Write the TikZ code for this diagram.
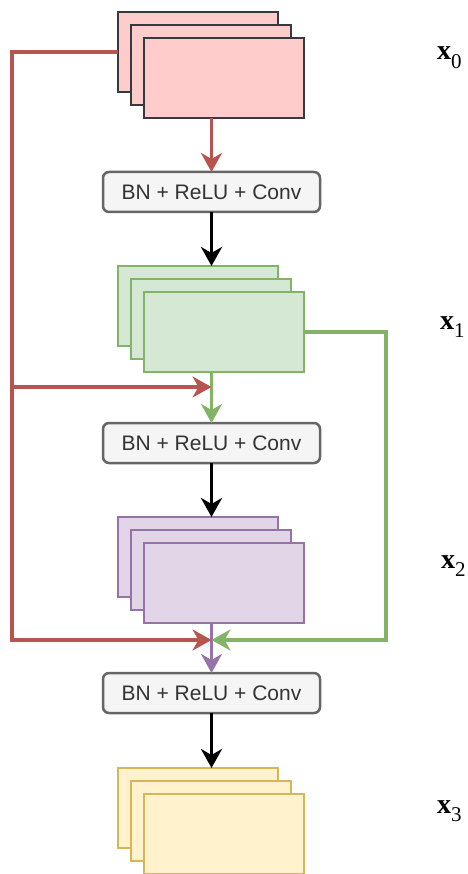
\documentclass[tikz,border=0pt]{standalone}
\usepackage{fontspec}
\setmainfont{Liberation Sans}
\newfontfamily\tms{Liberation Serif}
\usetikzlibrary{arrows.meta}
\definecolor{pinkfill}{HTML}{FFCCCC}
\definecolor{pinkline}{HTML}{36393D}
\definecolor{redline}{HTML}{B85450}
\definecolor{greenfill}{HTML}{D5E8D4}
\definecolor{greenline}{HTML}{82B366}
\definecolor{purplefill}{HTML}{E1D5E7}
\definecolor{purpleline}{HTML}{9673A6}
\definecolor{yellowfill}{HTML}{FFF2CC}
\definecolor{yellowline}{HTML}{D6B656}
\definecolor{boxfill}{HTML}{F5F5F5}
\definecolor{boxline}{HTML}{666666}
\definecolor{boxtext}{HTML}{333333}
\tikzset{
  fmap/.style={rectangle, draw, line width=2.5pt, minimum width=160pt, minimum height=80pt, inner sep=0pt, outer sep=0pt, anchor=north west},
  pinkmap/.style={fmap, fill=pinkfill, draw=pinkline},
  greenmap/.style={fmap, fill=greenfill, draw=greenline},
  purplemap/.style={fmap, fill=purplefill, draw=purpleline},
  yellowmap/.style={fmap, fill=yellowfill, draw=yellowline},
  opbox/.style={rectangle, rounded corners=6pt, draw=boxline, fill=boxfill, line width=2.5pt, minimum width=217pt, minimum height=40pt, inner sep=0pt, outer sep=0pt, text=boxtext, font=\fontsize{21}{25}\selectfont},
  conn/.style={line width=3.5pt, -{Stealth[length=19pt, width=21pt, inset=6pt]}},
  lbl/.style={anchor=base west, inner sep=0pt, outer sep=0pt}
}
\newcommand{\xlab}[1]{{\tms\fontsize{28}{32}\selectfont\textbf{x}\raisebox{-0.3em}{\fontsize{21}{23}\selectfont #1}}}
\begin{document}
\begin{tikzpicture}[x=1pt, y=-1pt]
\useasboundingbox (0,0) rectangle (467,874);
% feature maps
\node[pinkmap] (p0a) at (118,12) {};
\node[pinkmap] (p0b) at (131,25) {};
\node[pinkmap] (p0c) at (144,38) {};
\node[greenmap] (g0a) at (118,266) {};
\node[greenmap] (g0b) at (131,279) {};
\node[greenmap] (g0c) at (144,292) {};
\node[purplemap] (u0a) at (118,517) {};
\node[purplemap] (u0b) at (131,530) {};
\node[purplemap] (u0c) at (144,543) {};
\node[yellowmap] (y0a) at (118,768) {};
\node[yellowmap] (y0b) at (131,781) {};
\node[yellowmap] (y0c) at (144,794) {};
% op boxes
\node[opbox] (b1) at (211.5,192) {BN + ReLU + Conv};
\node[opbox] (b2) at (211.5,443) {BN + ReLU + Conv};
\node[opbox] (b3) at (211.5,693) {BN + ReLU + Conv};
% labels
\node[lbl] (l0) at (437,60) {\xlab{0}};
\node[lbl] (l1) at (440,329) {\xlab{1}};
\node[lbl] (l2) at (441,568) {\xlab{2}};
\node[lbl] (l3) at (437,813) {\xlab{3}};
% junction coordinates
\coordinate (cL1) at (12,387);
\coordinate (j1) at (211.5,387);
\coordinate (j2) at (211.5,640);
\coordinate (cR) at (386,640);
% main flow
\draw[conn, draw=redline] (b1.north |- p0c.south) -- (b1.north);
\draw[conn, draw=black] (b1.south) -- (b1.south |- g0a.north);
\draw[conn, draw=greenline] (b2.north |- g0c.south) -- (b2.north);
\draw[conn, draw=black] (b2.south) -- (b2.south |- u0a.north);
\draw[conn, draw=purpleline] (b3.north |- u0c.south) -- (b3.north);
\draw[conn, draw=black] (b3.south) -- (b3.south |- y0a.north);
% dense skip connections
\draw[conn, draw=redline] (p0a.west) -| (cL1) -- (j1);
\draw[conn, draw=redline] (cL1) |- (j2);
\draw[conn, draw=greenline] (g0c.east) -| (cR) -- (j2);
\end{tikzpicture}
\end{document}
